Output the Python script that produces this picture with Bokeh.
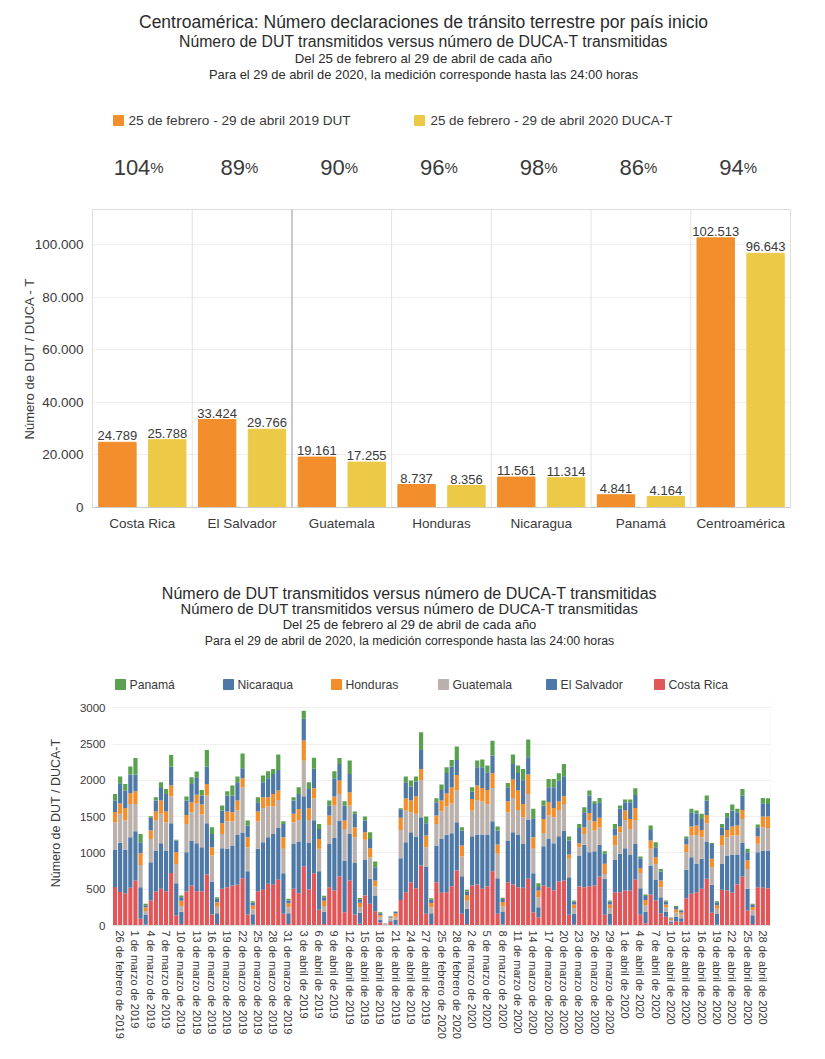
import pandas as pd
from bokeh.plotting import figure
from bokeh.models import ColumnDataSource, Range1d, FixedTicker, Span
from bokeh.embed import file_html
from bokeh.resources import INLINE
from bokeh.core.properties import value

FONT = "Liberation Sans"

# ---------------- top chart data ----------------
paises = ["Costa Rica", "El Salvador", "Guatemala", "Honduras", "Nicaragua", "Panamá", "Centroamérica"]
dut_2019 = [24789, 33424, 19161, 8737, 11561, 4841, 102513]
ducat_2020 = [25788, 29766, 17255, 8356, 11314, 4164, 96643]
porcentajes = [104, 89, 90, 96, 98, 86, 94]
y_ticks_top = [0, 20000, 40000, 60000, 80000, 100000]

# ---------------- bottom chart data ----------------
serie_paises = ["Costa Rica", "El Salvador", "Guatemala", "Honduras", "Nicaragua", "Panamá"]
legend_order = ["Panamá", "Nicaragua", "Honduras", "Guatemala", "El Salvador", "Costa Rica"]
colores = {"Costa Rica": "#E15759", "El Salvador": "#4E79A7", "Guatemala": "#BAB0AC",
           "Honduras": "#F28E2B", "Nicaragua": "#4E79A7", "Panamá": "#59A14F"}

costa_rica = [530,460,445,520,620,92,10,344,468,505, 473,725,138,20,468,551,473,473,702,152,
              20,505,528,551,560,650,152,15,473,491, 574,560,629,161,20,505,445,817,496,720,
              216,20,528,482,675,184,620,150,25,413, 298,197,40,5,50,10,353,459,597,514,
              826,161,20,597,
              450,459,542,757,161,20,551,565,505,542, 748,161,15,597,565,528,519,643,184,115,
              551,528,482,606,620,147,10,537,528,542, 551,675,147,10,459,459,482,482,633,147,
              30,427,344,170,120,30,60,50,376,436, 459,505,643,174,10,491,482,450,565,675,
              207,20,528,519,514]
el_salvador = [510,680,597,696,679,436,140,528,565,629, 560,684,445,170,542,619,661,606,707,454,
               150,560,528,551,688,630,596,140,583,656, 642,702,716,559,150,619,712,963,642,730,
               532,170,596,725,771,711,642,710,150,496, 345,216,40,10,20,70,574,688,688,711,
               666,651,150,505,
               743,791,728,666,518,210,679,688,748,711, 689,491,170,573,720,720,605,812,537,137,
               541,665,652,624,688,519,150,427,583,468, 473,436,496,150,445,528,583,491,491,367,
               160,399,289,220,70,20,60,50,391,505, 390,413,514,386,150,358,482,528,413,463,
               298,120,482,514,519]
guatemala = [380,400,404,459,376,307,50,321,413,404, 390,372,266,80,390,391,546,450,381,358,
             90,197,381,335,341,620,331,70,381,473, 423,377,385,336,80,299,298,490,317,300,
             308,80,262,445,367,436,390,356,80,271, 298,129,40,8,25,40,390,437,276,313,
             514,267,80,298,
             377,390,410,436,271,110,354,468,454,413, 459,335,80,391,473,345,368,358,335,138,
             184,322,358,363,367,252,80,115,151,436, 284,243,68,80,198,298,390,358,322,211,
             90,230,216,138,60,25,60,50,243,298, 399,298,252,243,70,253,252,261,261,331,
             275,70,115,321,312]
honduras = [145,140,174,147,175,161,50,115,124,183, 147,147,161,70,124,137,120,137,161,115,
            60,147,133,124,132,130,137,50,133,147, 128,174,129,160,55,115,151,280,161,140,
            137,70,129,124,184,115,184,138,60,105, 124,78,25,5,15,45,166,169,160,238,
            151,160,60,115,
            151,180,220,216,152,80,160,207,189,202, 202,128,60,151,252,266,183,266,160,92,
            193,183,128,114,106,60,50,55,92,105, 129,129,139,50,137,78,130,138,174,64,
            70,114,92,92,40,20,45,30,105,124, 129,101,115,115,50,137,101,124,138,124,
            115,45,100,147,156]
nicaragua = [155,280,240,257,229,152,30,182,151,175, 243,261,160,50,197,253,243,124,238,183,
             50,175,220,229,253,135,161,40,128,207, 262,276,285,184,40,183,207,300,266,270,
             138,50,137,253,229,206,252,184,45,161, 128,183,25,3,15,20,117,221,193,207,
             262,170,45,183,
             147,280,290,206,206,50,100,252,284,243, 243,193,40,193,216,243,327,239,262,48,
             183,207,285,290,275,192,40,211,207,239, 238,215,137,40,101,244,113,229,179,138,
             55,147,138,124,40,10,30,25,87,198, 161,152,197,206,40,115,175,221,184,197,
             115,30,129,183,174]
panama = [93,92,91,110,230,114,18,15,46,78, 69,161,10,23,55,92,78,78,230,92,
          20,68,60,138,78,205,69,20,69,92, 96,68,211,37,22,46,92,110,92,150,
          69,20,69,96,83,60,184,32,20,55, 92,78,14,1,4,8,16,78,83,69,
          243,92,21,55,
          74,80,91,184,46,21,61,92,106,92, 206,55,16,59,129,101,155,243,129,53,
          69,115,115,101,170,56,14,55,69,69, 37,60,37,14,60,45,37,37,92,23,
          22,60,69,36,14,5,15,11,24,46, 46,69,69,14,15,46,59,82,46,92,
          46,13,37,74,78]
y_ticks_bottom = [0, 500, 1000, 1500, 2000, 2500, 3000]

meses = {2: "febrero", 3: "marzo", 4: "abril"}
fechas = list(pd.date_range("2019-02-25", "2019-04-29")) + list(pd.date_range("2020-02-25", "2020-04-29"))
etiquetas = [f"{d.day} de {meses[d.month]} de {d.year}" for d in fechas]

ORANGE = "#F28E2B"
YELLOW = "#EDC948"
TITLE_C = "#2b2b2b"
TEXT_C = "#3a3a3a"
W = 825
T1, T2, T3, T4 = 0, 200, 553, 690          # top of each block (page px)
H1, H2, H3, H4 = T2 - T1, T3 - T2, T4 - T3, 1059 - T4
FR_L, FR_R = 92, 790                        # top chart frame (page px)


def blank(h):
    p = figure(width=W, height=h, x_range=Range1d(0, W), y_range=Range1d(0, h),
               toolbar_location=None, output_backend="svg", min_border=0,
               x_axis_type=None, y_axis_type=None)
    p.grid.visible = False
    p.outline_line_color = None
    return p


def txt(p, x, y, s, size, color=TEXT_C, align="center", baseline="middle"):
    p.text(x=[x], y=[y], text=[s], text_font=value(FONT), text_font_size=f"{size}px",
           text_color=color, text_align=align, text_baseline=baseline, text_font_style="normal")


def plain_axis(ax, size, standoff):
    ax.major_tick_line_color = None
    ax.minor_tick_line_color = None
    ax.major_tick_out = 0
    ax.major_tick_in = 0
    ax.minor_tick_out = 0
    ax.minor_tick_in = 0
    ax.major_label_standoff = standoff
    ax.major_label_text_font = FONT
    ax.major_label_text_font_size = size
    ax.major_label_text_color = TEXT_C


# ---------------- header 1 ----------------
h1 = blank(H1)
fy1 = lambda yo: H1 - (yo - T1)
cx = 423
txt(h1, cx, fy1(21), "Centroamérica: Número declaraciones de tránsito terrestre por país inicio", 17.5, TITLE_C)
txt(h1, cx, fy1(41), "Número de DUT transmitidos versus número de DUCA-T transmitidas", 15.8, TITLE_C)
txt(h1, cx, fy1(58), "Del 25 de febrero al 29 de abril de cada año", 13.2, TITLE_C)
txt(h1, cx, fy1(74), "Para el 29 de abril de 2020, la medición corresponde hasta las 24:00 horas", 12.9, TITLE_C)
h1.rect(x=[118, 419], y=[fy1(120), fy1(120)], width=10, height=10, color=[ORANGE, YELLOW])
txt(h1, 128, fy1(120), "25 de febrero - 29 de abril 2019 DUT", 13.6, TEXT_C, "left")
txt(h1, 430, fy1(120), "25 de febrero - 29 de abril 2020 DUCA-T", 13.4, TEXT_C, "left")
gw = (FR_R - FR_L) / len(paises)
for i, pc in enumerate(porcentajes):
    c = FR_L + gw * (i + 0.5)
    split = c + 3 + (len(str(pc)) - 2) * 5
    txt(h1, split, fy1(167), str(pc), 22, TEXT_C, "right", "alphabetic")
    txt(h1, split, fy1(167), "%", 15, TEXT_C, "left", "alphabetic")

# ---------------- bar chart ----------------
pb = figure(width=W, height=H2, x_range=Range1d(0, len(paises)), y_range=Range1d(0, 113300),
            toolbar_location=None, output_backend="svg",
            min_border_left=FR_L, min_border_right=W - FR_R, min_border_top=209 - T2,
            min_border_bottom=T3 - 507)
pb.outline_line_color = "#dddddd"
pb.xgrid.visible = False
pb.ygrid.ticker = FixedTicker(ticks=y_ticks_top)
pb.ygrid.grid_line_color = "#eeeeee"
for i in range(1, len(paises)):
    pb.add_layout(Span(location=i, dimension="height",
                       line_color="#c8c8c8" if i == 2 else "#e2e2e2",
                       line_width=2 if i == 2 else 1))
x19 = [i + 0.25 for i in range(len(paises))]
x20 = [i + 0.75 for i in range(len(paises))]
pb.vbar(x=x19, top=dut_2019, width=0.375, color=ORANGE)
pb.vbar(x=x20, top=ducat_2020, width=0.375, color=YELLOW)
fmt = lambda v: f"{v:,}".replace(",", ".")
for xs, vals in ((x19, dut_2019), (x20, ducat_2020)):
    pb.text(x=xs, y=vals, text=[fmt(v) for v in vals], text_font=value(FONT),
            text_font_size="13px", text_color=TEXT_C, text_align="center",
            text_baseline="bottom", y_offset=-2)
pb.xaxis.ticker = FixedTicker(ticks=[i + 0.5 for i in range(len(paises))])
pb.xaxis.major_label_overrides = {i + 0.5: n for i, n in enumerate(paises)}
plain_axis(pb.xaxis[0], "13.5px", 8)
pb.xaxis.axis_line_color = "#cccccc"
pb.yaxis.ticker = FixedTicker(ticks=y_ticks_top)
pb.yaxis.major_label_overrides = {t: fmt(t) for t in y_ticks_top}
plain_axis(pb.yaxis[0], "13.5px", 9)
pb.yaxis.axis_line_color = None
pb.yaxis.axis_label = "Número de DUT / DUCA - T"
pb.yaxis.axis_label_text_font = FONT
pb.yaxis.axis_label_text_font_style = "normal"
pb.yaxis.axis_label_text_font_size = "13px"
pb.yaxis.axis_label_text_color = TEXT_C
pb.yaxis.axis_label_standoff = -5

# ---------------- header 2 ----------------
h3 = blank(H3)
fy3 = lambda yo: H3 - (yo - T3)
cx2 = 409
t2 = "Número de DUT transmitidos versus número de DUCA-T transmitidas"
txt(h3, cx2, fy3(593), t2, 16, TITLE_C)
txt(h3, cx2, fy3(608), t2, 14.8, TITLE_C)
txt(h3, cx2, fy3(624), "Del 25 de febrero al 29 de abril de cada año", 13, TITLE_C)
txt(h3, cx2, fy3(640), "Para el 29 de abril de 2020, la medición corresponde hasta las 24:00 horas", 12.3, TITLE_C)
leg_sq = [120, 228, 336, 443, 551, 659]
for k, name in enumerate(legend_order):
    h3.rect(x=[leg_sq[k]], y=[fy3(684)], width=10, height=10, color=colores[name])
    txt(h3, leg_sq[k] + 9, fy3(684), name, 12.2, TEXT_C, "left")

# ---------------- stacked chart ----------------
n = len(etiquetas)
src = ColumnDataSource(dict(x=list(range(n)), **{
    "Costa Rica": costa_rica, "El Salvador": el_salvador, "Guatemala": guatemala,
    "Honduras": honduras, "Nicaragua": nicaragua, "Panamá": panama}))
ps = figure(width=W, height=H4, x_range=Range1d(-0.5, n - 0.5), y_range=Range1d(0, 3100),
            toolbar_location=None, output_backend="svg",
            min_border_left=112, min_border_right=W - 770, min_border_top=700 - T4,
            min_border_bottom=T4 + H4 - 925)
ps.outline_line_color = None
ps.xgrid.visible = False
ps.ygrid.ticker = FixedTicker(ticks=y_ticks_bottom)
ps.ygrid.grid_line_color = "#efefef"
ps.vbar_stack(serie_paises, x="x", width=0.82, source=src,
              color=[colores[s] for s in serie_paises], line_color=None)
ps.add_layout(Span(location=n - 0.5, dimension="height", line_color="#e6dccc",
                   line_width=1, line_dash="1 2"))
ticks = list(range(1, n, 3))
ps.xaxis.ticker = FixedTicker(ticks=ticks)
ps.xaxis.major_label_overrides = {t: etiquetas[t] for t in ticks}
ps.xaxis.major_label_orientation = "vertical"
plain_axis(ps.xaxis[0], "11px", 5)
ps.xaxis.axis_line_color = "#dddddd"
ps.yaxis.ticker = FixedTicker(ticks=y_ticks_bottom)
plain_axis(ps.yaxis[0], "11.5px", 7)
ps.yaxis.axis_line_color = None
ps.yaxis.axis_label = "Número de DUT / DUCA-T"
ps.yaxis.axis_label_text_font = FONT
ps.yaxis.axis_label_text_font_style = "normal"
ps.yaxis.axis_label_text_font_size = "12.5px"
ps.yaxis.axis_label_text_color = TEXT_C
ps.yaxis.axis_label_standoff = 14

p = [h1, pb, h3, ps]
open("out.html", "w").write(file_html(p, INLINE))
